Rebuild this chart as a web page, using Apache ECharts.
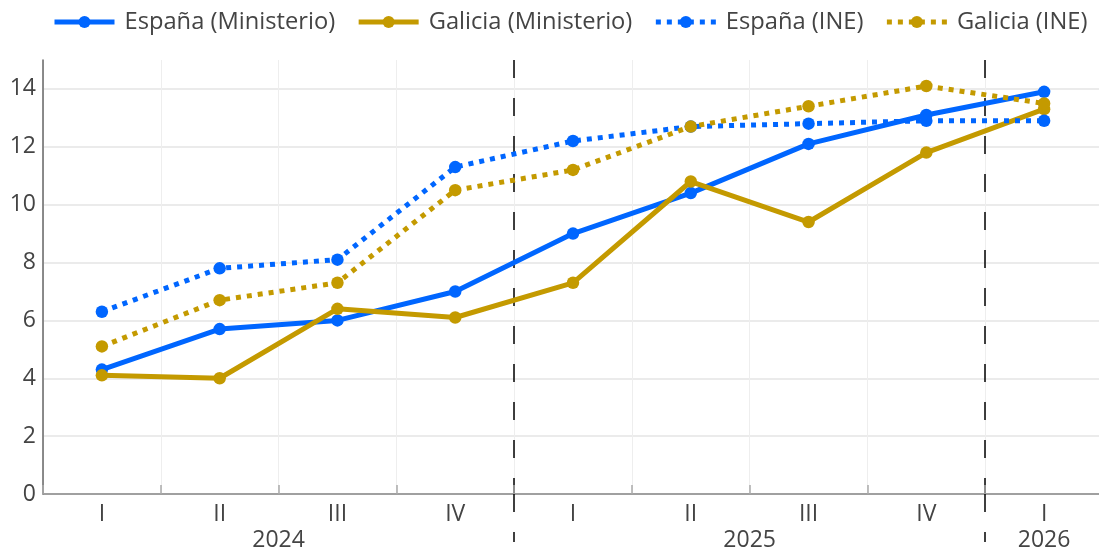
<!DOCTYPE html>
<html>
<head>
<meta charset="utf-8">
<script src="https://cdn.jsdelivr.net/npm/echarts@6/dist/echarts.min.js"></script>
<style>html,body{margin:0;padding:0;background:#fff}#c{width:1099px;height:550px}</style>
</head>
<body>
<div id="c"></div>
<script>
const quarters = ['I','II','III','IV','I','II','III','IV','I'];
const years = ['2024','2025','2026'];
const yearSpan = [4, 4, 1];
const seriesNames = ['España (Ministerio)','Galicia (Ministerio)','España (INE)','Galicia (INE)'];
const espanaMin = [4.3, 5.7, 6.0, 7.0, 9.0, 10.4, 12.1, 13.1, 13.9];
const galiciaMin = [4.1, 4.0, 6.4, 6.1, 7.3, 10.8, 9.4, 11.8, 13.3];
const espanaINE = [6.3, 7.8, 8.1, 11.3, 12.2, 12.7, 12.8, 12.9, 12.9];
const galiciaINE = [5.1, 6.7, 7.3, 10.5, 11.2, 12.7, 13.4, 14.1, 13.5];

const BLUE = '#0066ff', GOLD = '#c49a00';
const FONT = 'Open Sans';
const DOT = [5, 6];

// half-quarter slots for the year axis
const nSlots = quarters.length * 2 + 1;
const yearSlotLabel = {};
const boundarySlots = new Set();
let cum = 0;
years.forEach((y, i) => {
  yearSlotLabel[2 * cum + yearSpan[i]] = y;
  cum += yearSpan[i];
  if (cum < quarters.length) boundarySlots.add(2 * cum);
});
const yearAxisData = Array.from({length: nSlots}, (_, i) => 's' + i);

const styles = [
  {color: BLUE, dotted: false},
  {color: GOLD, dotted: false},
  {color: BLUE, dotted: true},
  {color: GOLD, dotted: true}
];

function mk(name, data, st) {
  return {
    name, type: 'line', data, xAxisIndex: 0, yAxisIndex: 0,
    symbol: 'circle', symbolSize: 12.5, showAllSymbol: true,
    itemStyle: {color: st.color},
    lineStyle: {color: st.color, width: 5, type: st.dotted ? DOT : 'solid', cap: 'butt'},
    emphasis: {disabled: true}
  };
}

const chart = echarts.init(document.getElementById('c'), null, {renderer: 'canvas'});
chart.setOption({
  animation: false,
  textStyle: {fontFamily: FONT},
  legend: {
    top: 10, left: 52, width: 1090, padding: 0,
    itemWidth: 60, itemHeight: 15, itemGap: 21,
    textStyle: {fontFamily: FONT, fontSize: 23.7, color: '#444', padding: [0, 0, 0, 5]},
    data: seriesNames.map((n, i) => ({
      name: n,
      itemStyle: {color: styles[i].color},
      lineStyle: {color: styles[i].color, width: 5, type: styles[i].dotted ? DOT : 'solid'}
    }))
  },
  grid: {left: 43, top: 60, width: 1060, height: 434, containLabel: false, outerBoundsMode: 'none'},
  xAxis: [
    {
      type: 'category', data: quarters, boundaryGap: true,
      axisLine: {show: true, lineStyle: {color: '#888', width: 1.5}},
      axisTick: {show: true, inside: true, length: 9, lineStyle: {color: '#aaa', width: 1.5}},
      axisLabel: {fontFamily: FONT, fontSize: 23, color: '#444', margin: 9, interval: 0},
      splitLine: {show: true, lineStyle: {color: '#eeeeee', width: 1}}
    },
    {
      type: 'category', data: yearAxisData, boundaryGap: false, position: 'bottom',
      axisLine: {show: false},
      axisTick: {
        show: true, inside: false, length: 48,
        interval: (i) => boundarySlots.has(i),
        lineStyle: {color: '#000', width: 1.5, type: [18, 20]}
      },
      axisLabel: {
        fontFamily: FONT, fontSize: 23, color: '#444', margin: 35,
        interval: 0, formatter: (v, i) => yearSlotLabel[i] || ''
      },
      splitLine: {
        show: true, interval: (i) => boundarySlots.has(i),
        lineStyle: {color: '#000', width: 1.5, type: [18, 20]}
      }
    }
  ],
  yAxis: {
    type: 'value', min: 0, max: 15, interval: 2,
    axisLine: {show: true, lineStyle: {color: '#666', width: 1.5}},
    axisTick: {show: false},
    axisLabel: {fontFamily: FONT, fontSize: 23, color: '#444', margin: 7, showMaxLabel: false},
    splitLine: {show: true, showMaxLine: false, lineStyle: {color: '#e4e4e4', width: 1.5}}
  },
  series: [
    mk(seriesNames[0], espanaMin, styles[0]),
    mk(seriesNames[1], galiciaMin, styles[1]),
    mk(seriesNames[2], espanaINE, styles[2]),
    mk(seriesNames[3], galiciaINE, styles[3]),
    {type: 'line', xAxisIndex: 1, yAxisIndex: 0, data: [], silent: true}
  ]
});
</script>
</body>
</html>
